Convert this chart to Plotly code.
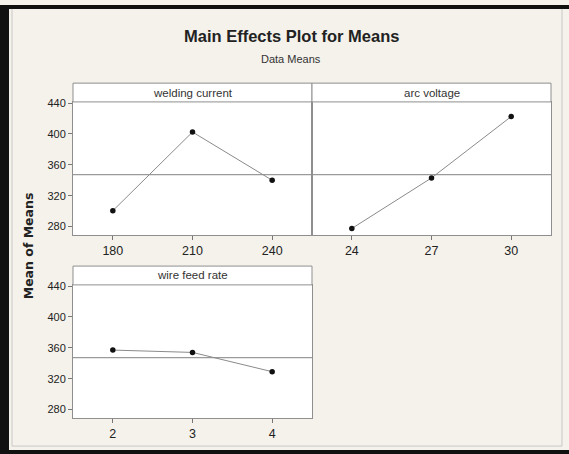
import plotly.graph_objects as go

# ---- data ----
factors = ["welding current", "arc voltage", "wire feed rate"]
wc_levels = [180, 210, 240]
wc_means = [300.5, 402.5, 340.0]
av_levels = [24, 27, 30]
av_means = [277.5, 343.0, 422.5]
wf_levels = [2, 3, 4]
wf_means = [357.0, 354.0, 329.0]
y_ticks = [280, 320, 360, 400, 440]

all_means = wc_means + av_means + wf_means
grand_mean = sum(all_means) / len(all_means)

W, H = 569, 454
def px(x):
    return x / W
def py(y):
    return 1 - y / H

BG = "#f5f2eb"
BORDER = "#8f8f8f"
FONT = "Liberation Sans"

panels = [
    dict(levels=wc_levels, means=wc_means, name=factors[0], x0=73, x1=312, ytop=98, ybot=233, strip=79, showy=True),
    dict(levels=av_levels, means=av_means, name=factors[1], x0=312, x1=551, ytop=98, ybot=233, strip=79, showy=False),
    dict(levels=wf_levels, means=wf_means, name=factors[2], x0=73, x1=312, ytop=283, ybot=418, strip=264, showy=True),
]

fig = go.Figure()
shapes = []
annotations = []
layout_axes = {}
yrange = [268.5, 441.5]

for i, p in enumerate(panels, start=1):
    xa = "x" if i == 1 else f"x{i}"
    ya = "y" if i == 1 else f"y{i}"
    fig.add_trace(go.Scatter(
        x=p["levels"], y=p["means"], mode="lines+markers",
        line=dict(color="#8a8a8a", width=1),
        marker=dict(color="#111111", size=5.5),
        xaxis=xa, yaxis=ya, showlegend=False, hoverinfo="x+y"))
    step = p["levels"][1] - p["levels"][0]
    layout_axes[f"xaxis{'' if i == 1 else i}"] = dict(
        domain=[px(p["x0"]), px(p["x1"])],
        anchor=ya, range=[p["levels"][0] - step / 2, p["levels"][-1] + step / 2],
        tickvals=p["levels"], ticktext=[str(v) for v in p["levels"]],
        ticks="outside", ticklen=4, tickcolor="#777777",
        showline=True, mirror=True, linecolor=BORDER, linewidth=1,
        showgrid=False, zeroline=False,
        tickfont=dict(family=FONT, size=12.5, color="#222222"))
    layout_axes[f"yaxis{'' if i == 1 else i}"] = dict(
        domain=[py(p["ybot"]), py(p["ytop"])],
        anchor=xa, range=yrange,
        tickvals=y_ticks, ticks="outside" if p["showy"] else "",
        ticklen=4, tickcolor="#777777",
        showticklabels=p["showy"],
        showline=True, mirror=True, linecolor=BORDER, linewidth=1,
        showgrid=False, zeroline=False,
        tickfont=dict(family=FONT, size=11, color="#222222"))
    # grand-mean reference line
    shapes.append(dict(type="line", xref=f"{xa} domain", yref=ya,
                       x0=0, x1=1, y0=grand_mean, y1=grand_mean,
                       line=dict(color="#9a9a9a", width=1.2), layer="below"))
    # strip
    shapes.append(dict(type="rect", xref="paper", yref="paper",
                       x0=px(p["x0"]), x1=px(p["x1"]), y0=py(p["ytop"]), y1=py(p["strip"]),
                       fillcolor="white", line=dict(color=BORDER, width=1)))
    annotations.append(dict(text=p["name"], xref="paper", yref="paper",
                            x=(px(p["x0"]) + px(p["x1"])) / 2, y=(py(p["ytop"]) + py(p["strip"])) / 2,
                            showarrow=False, xanchor="center", yanchor="middle",
                            font=dict(family=FONT, size=11.5, color="#333333")))

# window frame
shapes += [
    dict(type="rect", xref="paper", yref="paper", x0=0, x1=px(9), y0=0, y1=1,
         fillcolor="#111111", line=dict(width=0)),
    dict(type="rect", xref="paper", yref="paper", x0=0, x1=1, y0=py(4), y1=1,
         fillcolor="#111111", line=dict(width=0)),
    dict(type="rect", xref="paper", yref="paper", x0=0, x1=1, y0=0, y1=py(450),
         fillcolor="#111111", line=dict(width=0)),
    dict(type="line", xref="paper", yref="paper", x0=px(562), x1=px(562), y0=py(446), y1=py(4),
         line=dict(color="#c8c8c8", width=1)),
    dict(type="line", xref="paper", yref="paper", x0=px(12), x1=px(562), y0=py(446), y1=py(446),
         line=dict(color="#c8c8c8", width=1)),
    dict(type="line", xref="paper", yref="paper", x0=px(12), x1=px(12), y0=py(446), y1=py(4),
         line=dict(color="#c8c8c8", width=1)),
]

annotations += [
    dict(text="<b>Main Effects Plot for Means</b>", xref="paper", yref="paper",
         x=px(291), y=py(31), showarrow=False, xanchor="center", yanchor="middle",
         font=dict(family=FONT, size=16.5, color="#222222")),
    dict(text="Data Means", xref="paper", yref="paper",
         x=px(291), y=py(55), showarrow=False, xanchor="center", yanchor="middle",
         font=dict(family=FONT, size=11, color="#333333")),
    dict(text="<b>Mean of Means</b>", xref="paper", yref="paper",
         x=px(28), y=py(244), showarrow=False, textangle=-90,
         xanchor="center", yanchor="middle",
         font=dict(family="DejaVu Sans", size=12.5, color="#222222")),
]

fig.update_layout(
    width=W, height=H, margin=dict(l=0, r=0, t=0, b=0),
    paper_bgcolor=BG, plot_bgcolor="white",
    shapes=shapes, annotations=annotations, showlegend=False,
    **layout_axes)

fig.write_html("out.html", config={"displayModeBar": False},
               post_script="document.body.style.margin='0';document.body.style.overflow='hidden';")
